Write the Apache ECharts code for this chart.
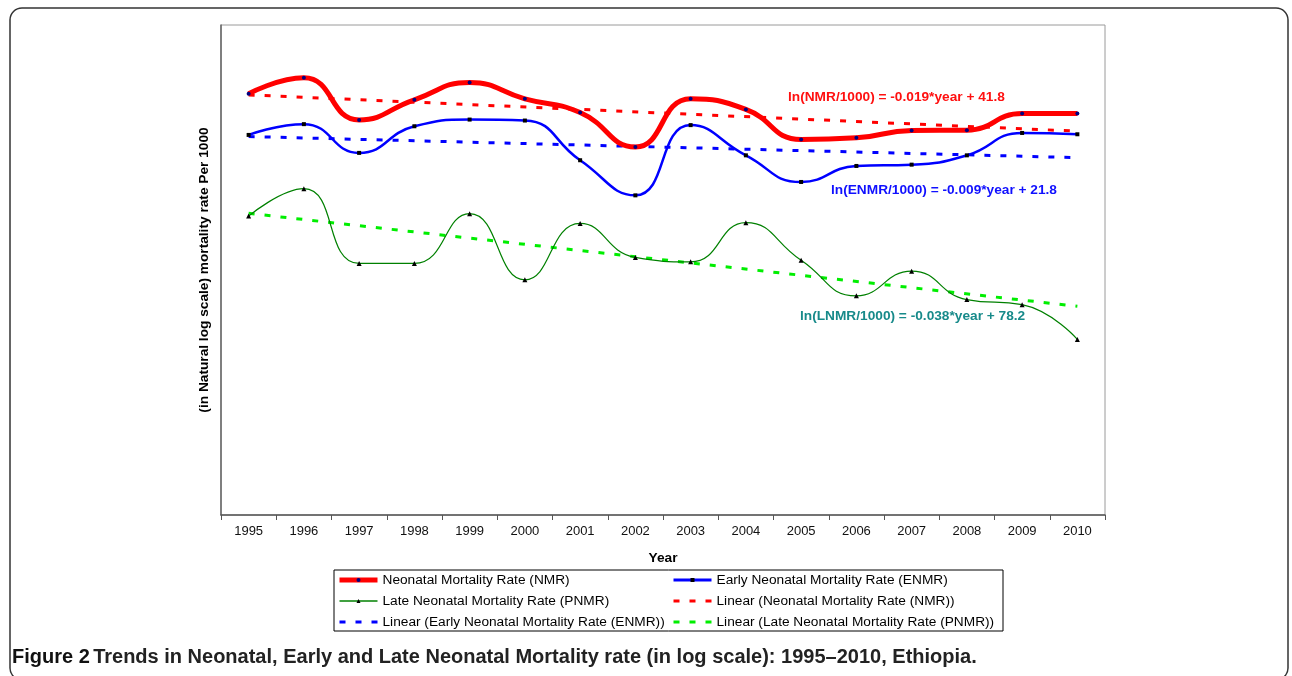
<!DOCTYPE html>
<html>
<head>
<meta charset="utf-8">
<script src="https://cdn.jsdelivr.net/npm/echarts@6/dist/echarts.min.js"></script>
<style>
html,body{margin:0;padding:0;background:#fff;}
#chart{width:1292px;height:676px;}
</style>
</head>
<body>
<div id="chart"></div>
<script>
// Categories (years)
const years = ['1995','1996','1997','1998','1999','2000','2001','2002','2003','2004','2005','2006','2007','2008','2009','2010'];
// ln-scale values (arbitrary unlabeled log axis)
const nmr  = [3.579, 3.677, 3.419, 3.542, 3.648, 3.548, 3.464, 3.253, 3.548, 3.483, 3.299, 3.309, 3.354, 3.356, 3.458, 3.458];
const enmr = [3.327, 3.393, 3.217, 3.380, 3.421, 3.415, 3.172, 2.957, 3.387, 3.202, 3.039, 3.137, 3.145, 3.202, 3.339, 3.331];
const lnmr = [2.830, 2.998, 2.540, 2.540, 2.845, 2.440, 2.785, 2.577, 2.550, 2.790, 2.560, 2.342, 2.493, 2.319, 2.288, 2.075];
// Linear trend end points (first year, last year)
const nmrTrend  = [3.572, 3.350];
const enmrTrend = [3.317, 3.188];
const lnmrTrend = [2.847, 2.278];
// Text
const names = {
  nmr: 'Neonatal Mortality Rate (NMR)',
  enmr: 'Early Neonatal Mortality Rate (ENMR)',
  lnmr: 'Late Neonatal Mortality Rate (PNMR)',
  tNmr: 'Linear (Neonatal Mortality Rate (NMR))',
  tEnmr: 'Linear (Early Neonatal Mortality Rate (ENMR))',
  tLnmr: 'Linear (Late Neonatal Mortality Rate (PNMR))'
};
const eqNmr = 'ln(NMR/1000) = -0.019*year + 41.8';
const eqEnmr = 'ln(ENMR/1000) = -0.009*year + 21.8';
const eqLnmr = 'ln(LNMR/1000) = -0.038*year + 78.2';
const caption = 'Trends in Neonatal, Early and Late Neonatal Mortality rate (in log scale): 1995\u20132010, Ethiopia.';

const FONT = '"Liberation Sans", Arial, sans-serif';
const last = years.length - 1;
const trend = t => [[0, t[0]], [last, t[1]]];
const dashIcon = 'path://M0,0h6v3h-6zM16,0h6v3h-6zM32,0h6v3h-6z';

const chart = echarts.init(document.getElementById('chart'), null, {renderer: 'canvas'});
const dash = [6, 10];
const legendCommon = {
  orient: 'vertical', top: 568, itemWidth: 38, itemHeight: 5, itemGap: 7,
  textStyle: {fontFamily: FONT, fontSize: 13.7, color: '#000'}
};
chart.setOption({
  animation: false,
  textStyle: {fontFamily: FONT},
  grid: {left: 221, right: 187, top: 25, bottom: 161, show: true, borderColor: '#9a9a9a', borderWidth: 1},
  xAxis: {
    type: 'category', data: years, boundaryGap: true,
    name: 'Year', nameLocation: 'middle', nameGap: 36,
    nameTextStyle: {fontFamily: FONT, fontSize: 13.7, fontWeight: 'bold', color: '#000'},
    axisLine: {lineStyle: {color: '#555', width: 1.5}},
    axisTick: {show: true, length: 5, lineStyle: {color: '#555'}},
    axisLabel: {fontFamily: FONT, fontSize: 13, color: '#111', margin: 10}
  },
  yAxis: {
    type: 'value', min: 1, max: 4,
    name: '(in Natural log scale) mortality rate Per 1000', nameLocation: 'middle', nameGap: 10,
    nameTextStyle: {fontFamily: FONT, fontSize: 13.7, fontWeight: 'bold', color: '#000'},
    axisLine: {show: true, lineStyle: {color: '#666', width: 1.5}},
    axisTick: {show: false}, axisLabel: {show: false}, splitLine: {show: false}
  },
  legend: [
    Object.assign({left: 332, data: [
      {name: names.nmr, lineStyle: {width: 5}},
      {name: names.lnmr, lineStyle: {width: 1.5}},
      {name: names.tEnmr, icon: dashIcon, itemStyle: {borderWidth: 0}}
    ]}, legendCommon),
    Object.assign({left: 667, data: [
      {name: names.enmr, lineStyle: {width: 3}},
      {name: names.tNmr, icon: dashIcon, itemStyle: {borderWidth: 0}},
      {name: names.tLnmr, icon: dashIcon, itemStyle: {borderWidth: 0}}
    ]}, legendCommon)
  ],
  series: [
    {name: names.tNmr, type: 'line', data: trend(nmrTrend), symbol: 'none', z: 1,
     lineStyle: {color: '#ff0000', width: 3, type: dash}, itemStyle: {color: '#ff0000'}},
    {name: names.tEnmr, type: 'line', data: trend(enmrTrend), symbol: 'none', z: 1,
     lineStyle: {color: '#0000ff', width: 3, type: dash}, itemStyle: {color: '#0000ff'}},
    {name: names.tLnmr, type: 'line', data: trend(lnmrTrend), symbol: 'none', z: 1,
     lineStyle: {color: '#00ee00', width: 3, type: dash}, itemStyle: {color: '#00ee00'}},
    {name: names.nmr, type: 'line', data: nmr, smooth: 0.5, symbol: 'circle', symbolSize: 4, z: 3,
     lineStyle: {color: '#ff0000', width: 5}, itemStyle: {color: '#000080'}},
    {name: names.enmr, type: 'line', data: enmr, smooth: 0.5, symbol: 'rect', symbolSize: 4, z: 3,
     lineStyle: {color: '#0000ff', width: 2.5}, itemStyle: {color: '#000'}},
    {name: names.lnmr, type: 'line', data: lnmr, smooth: 0.5, symbol: 'triangle', symbolSize: 5, z: 3,
     lineStyle: {color: '#008000', width: 1.2}, itemStyle: {color: '#000'}}
  ],
  graphic: [
    {type: 'rect', shape: {x: 10, y: 8, width: 1278, height: 672, r: 12}, silent: true,
     style: {fill: 'none', stroke: '#333', lineWidth: 1.5}},
    {type: 'rect', shape: {x: 334, y: 570, width: 669, height: 61}, silent: true,
     style: {fill: 'none', stroke: '#000', lineWidth: 1}},
    {type: 'text', left: 788, top: 90, silent: true,
     style: {text: eqNmr, fill: '#ff1010', font: 'bold 13.7px ' + FONT}},
    {type: 'text', left: 831, top: 183, silent: true,
     style: {text: eqEnmr, fill: '#1010ff', font: 'bold 13.7px ' + FONT}},
    {type: 'text', left: 800, top: 309, silent: true,
     style: {text: eqLnmr, fill: '#178a8a', font: 'bold 13.7px ' + FONT}},
    {type: 'text', left: 12, top: 647, silent: true,
     style: {
       text: '{b|Figure 2} {n|' + caption + '}',
       rich: {
         b: {font: 'bold 20px ' + FONT, fill: '#111'},
         n: {font: 'bold 20px ' + FONT, fill: '#222'}
       }
     }}
  ]
});
</script>
</body>
</html>
